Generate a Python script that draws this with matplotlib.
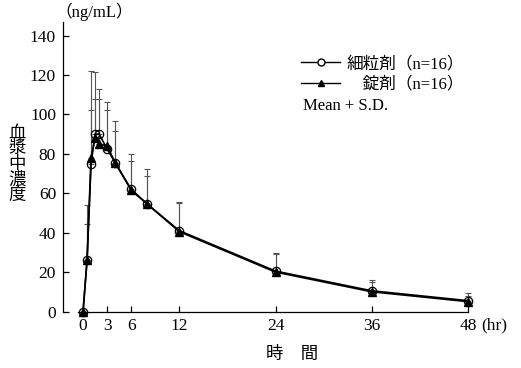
import matplotlib
matplotlib.use("Agg")
import matplotlib.pyplot as plt
from matplotlib.lines import Line2D

plt.rcParams['font.family'] = ['Liberation Serif', 'Noto Sans CJK JP']

# sampling times (hr)
hours = [0, 0.5, 1, 1.5, 2, 3, 4, 6, 8, 12, 24, 36, 48]
# 細粒剤 (fine granules), mean and S.D. (ng/mL)
granule_mean = [0, 26, 75, 90, 90, 82.5, 75.5, 62, 54.5, 41, 20.5, 10.5, 5.5]
granule_sd = [0, 28, 47, 31.5, 22.8, 19.5, 21, 18, 17.8, 14.6, 9, 5.5, 3.9]
# 錠剤 (tablets), mean and S.D. (ng/mL)
tablet_mean = [0, 26, 78, 88, 85, 84, 75.5, 61.5, 54.5, 40.5, 20, 10, 5]
tablet_sd = [0, 18.6, 24, 20, 23, 22.5, 16, 15, 14, 14.5, 9, 5, 3]

x_ticks = [0, 3, 6, 12, 24, 36, 48]
y_ticks = [0, 20, 40, 60, 80, 100, 120, 140]

W, H = 521, 368
fig = plt.figure(figsize=(W / 100, H / 100), dpi=100)
ax = fig.add_axes([63 / W, (H - 311.5) / H, 405 / W, 289.8 / H])

err_kw = dict(fmt='none', ecolor='#555555', elinewidth=0.8, capsize=2.2,
              capthick=0.8, clip_on=False)
ax.errorbar(hours, granule_mean, yerr=[[0] * len(hours), granule_sd], **err_kw)
ax.errorbar(hours, tablet_mean, yerr=[[0] * len(hours), tablet_sd], **err_kw)

ax.plot(hours, granule_mean, color='black', lw=1.2, marker='o', ms=6,
        mfc='none', mec='black', mew=0.9, clip_on=False, zorder=4)
ax.plot(hours, tablet_mean, color='black', lw=1.2, marker='^', ms=6,
        mfc='black', mec='black', clip_on=False, zorder=5)

ax.set_xlim(-2.5, 48)
ax.set_ylim(0, 147)
ax.set_xticks(x_ticks)
ax.set_yticks(y_ticks)
ax.spines['top'].set_visible(False)
ax.spines['right'].set_visible(False)
ax.spines['bottom'].set_bounds(-0.6, 48)
for s in ('left', 'bottom'):
    ax.spines[s].set_linewidth(0.9)
ax.tick_params(direction='in', length=4, width=0.9, labelsize=12.5, pad=5)

# units and axis titles
fig.text(55 / W, 1 - 12 / H, '（ng/mL）', fontsize=12, ha='left', va='center')
fig.text(481 / W, 1 - 325 / H, '(hr)', fontsize=12.5, ha='left', va='center')
fig.text(292 / W, 1 - 355 / H, '時　間', fontsize=12.5, ha='center', va='center')
fig.text(17 / W, 1 - 165 / H, '血\n漿\n中\n濃\n度', fontsize=12.5,
         ha='center', va='center', linespacing=0.95)

handles = [
    Line2D([], [], color='black', lw=1, marker='o', ms=5, mfc='white', mec='black'),
    Line2D([], [], color='black', lw=1, marker='^', ms=5, mfc='black', mec='black'),
]
labels = ['細粒剤（n=16）', '　錠剤（n=16）']
ax.legend(handles, labels, loc='upper left', bbox_to_anchor=(293 / W, 1 - 48 / H),
          bbox_transform=fig.transFigure, frameon=False, fontsize=12,
          handlelength=2.3, handletextpad=0.4, labelspacing=0.25, borderpad=0)
fig.text(303 / W, 1 - 106 / H, 'Mean + S.D.', fontsize=12, ha='left', va='center')

fig.savefig('out.png', dpi=100)
